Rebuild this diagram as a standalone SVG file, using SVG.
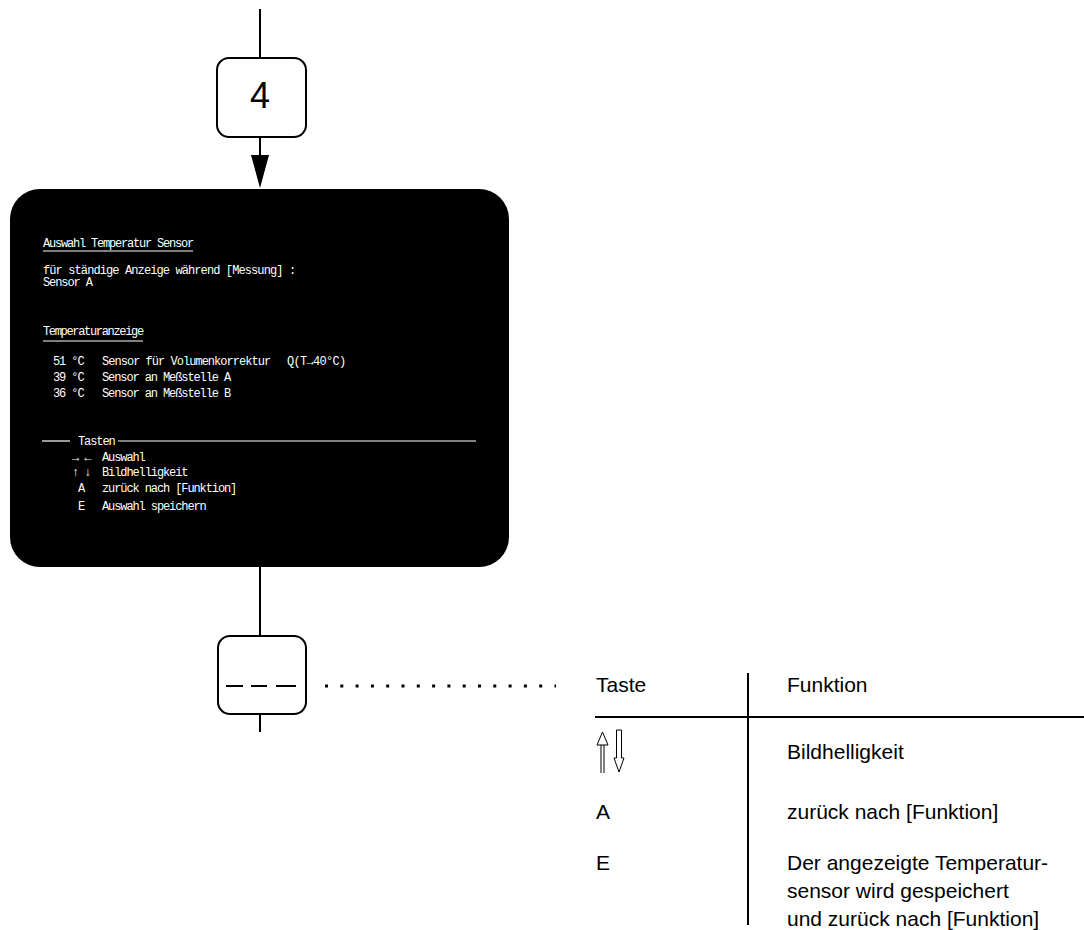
<svg xmlns="http://www.w3.org/2000/svg" width="1084" height="930" viewBox="0 0 1084 930">
  <style>
    .ln { stroke: #000; stroke-width: 2; fill: none; }
    .box { fill: #fff; stroke: #000; stroke-width: 2; }
    .scr { font-family: "Liberation Mono", "DejaVu Sans Mono", monospace; font-size: 12px; letter-spacing: -1.1px; fill: #fff; }
    .scrl { stroke: #fff; stroke-width: 1.2; fill: none; }
    .tbl { font-family: "Liberation Sans", Arial, sans-serif; font-size: 21px; fill: #000; }
  </style>

  <!-- connectors -->
  <g id="connectors">
    <line class="ln" x1="260" y1="9" x2="260" y2="58"/>
    <line class="ln" x1="260" y1="137" x2="260" y2="160"/>
    <path d="M251,155 L269,155 L260,188 Z" fill="#000"/>
    <line class="ln" x1="260" y1="567" x2="260" y2="636"/>
    <line class="ln" x1="260" y1="714" x2="260" y2="732"/>
    <line x1="325" y1="686" x2="556" y2="686" stroke="#000" stroke-width="3" stroke-dasharray="3 12.3"/>
  </g>

  <!-- step box 4 -->
  <g id="step4">
    <rect class="box" x="217" y="58" width="89" height="79" rx="12"/>
    <text x="260" y="108" font-family="Liberation Sans, Arial, sans-serif" font-size="36" text-anchor="middle">4</text>
  </g>

  <!-- screen -->
  <g id="screen">
    <rect x="10" y="189" width="499" height="378" rx="30" fill="#000"/>
    <text class="scr" x="43" y="247" textLength="150">Auswahl Temperatur Sensor</text>
    <line class="scrl" x1="43" y1="251" x2="193" y2="251"/>
    <text class="scr" x="43" y="274" textLength="252">für ständige Anzeige während [Messung] :</text>
    <text class="scr" x="43" y="286">Sensor  A</text>
    <text class="scr" x="43" y="335" textLength="100">Temperaturanzeige</text>
    <line class="scrl" x1="43" y1="341" x2="143" y2="341"/>
    <text class="scr" x="53" y="365">51 °C</text>
    <text class="scr" x="102" y="365" textLength="168">Sensor für Volumenkorrektur</text>
    <text class="scr" x="287" y="365" textLength="58">Q(T→40°C)</text>
    <text class="scr" x="53" y="381">39 °C</text>
    <text class="scr" x="102" y="381">Sensor an Meßstelle A</text>
    <text class="scr" x="53" y="397">36 °C</text>
    <text class="scr" x="102" y="397">Sensor an Meßstelle B</text>
    <line class="scrl" x1="42" y1="441" x2="70" y2="441"/>
    <text class="scr" x="78" y="445">Tasten</text>
    <line class="scrl" x1="118" y1="441" x2="476" y2="441"/>
    <text class="scr" x="72" y="461">→ ←</text>
    <text class="scr" x="102" y="461">Auswahl</text>
    <text class="scr" x="72" y="476">↑ ↓</text>
    <text class="scr" x="102" y="476">Bildhelligkeit</text>
    <text class="scr" x="78" y="492">A</text>
    <text class="scr" x="102" y="492">zurück nach [Funktion]</text>
    <text class="scr" x="78" y="510">E</text>
    <text class="scr" x="102" y="510">Auswahl speichern</text>
  </g>

  <!-- key box -->
  <g id="keybox">
    <rect class="box" x="218" y="636" width="88" height="78" rx="12"/>
    <path d="M226,686 H243 M251,686 H267 M276,686 H296" stroke="#000" stroke-width="2"/>
  </g>

  <!-- key table -->
  <g id="table">
    <line class="ln" x1="595" y1="717" x2="1084" y2="717"/>
    <line class="ln" x1="748" y1="673" x2="748" y2="925"/>
    <text class="tbl" x="596" y="692">Taste</text>
    <text class="tbl" x="787" y="692">Funktion</text>
    <!-- hollow up / down arrows -->
    <path d="M601,773 V745 M604,773 V745 M597,745 L602.5,732 L608,745 Z" fill="none" stroke="#000" stroke-width="1"/>
    <path d="M616.5,730 H621.5 V758 H624 L619,772 L614,758 H616.5 Z" fill="none" stroke="#000" stroke-width="1"/>
    <text class="tbl" x="787" y="759">Bildhelligkeit</text>
    <text class="tbl" x="596" y="819">A</text>
    <text class="tbl" x="787" y="819">zurück nach [Funktion]</text>
    <text class="tbl" x="596" y="870">E</text>
    <text class="tbl" x="787" y="870">Der angezeigte Temperatur-</text>
    <text class="tbl" x="787" y="898">sensor wird gespeichert</text>
    <text class="tbl" x="787" y="926">und zurück nach [Funktion]</text>
  </g>
</svg>
